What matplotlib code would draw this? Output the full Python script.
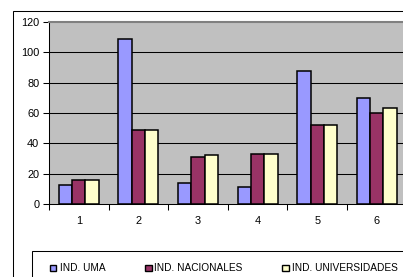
import matplotlib
matplotlib.use("Agg")
import matplotlib.pyplot as plt
from matplotlib.patches import Rectangle
import numpy as np

plt.rcParams['font.family'] = ['Liberation Sans', 'DejaVu Sans']

categories = ["1", "2", "3", "4", "5", "6"]
series_names = ["IND. UMA", "IND. NACIONALES", "IND. UNIVERSIDADES"]
uma = [12.5, 109, 14, 11, 88, 70]
nacionales = [16, 49, 31, 33, 52, 60]
universidades = [16, 49, 32, 33, 52, 63]
y_ticks = [0, 20, 40, 60, 80, 100, 120]

colors = ["#9999FF", "#993366", "#FFFFCC"]

W, H = 403, 277
fig = plt.figure(figsize=(W / 100, H / 100), dpi=100)
fig.patch.set_facecolor("white")

# outer chart border (cropped on right/bottom)
fig.add_artist(Rectangle((13.5 / W, -0.2), 2.0, 1.2 - 11.5 / H + 0.0,
                         transform=fig.transFigure, fill=False,
                         edgecolor="black", linewidth=0.75))

left, right, top, bottom = 49, 406.6, 22, 204
ax = fig.add_axes([left / W, 1 - bottom / H, (right - left) / W, (bottom - top) / H])
ax.set_facecolor("#C0C0C0")

x = np.arange(1, len(categories) + 1)
bw = 0.224
for i, (vals, c, name) in enumerate(zip([uma, nacionales, universidades], colors, series_names)):
    ax.bar(x + (i - 1) * bw, vals, width=bw, color=c, edgecolor="black",
           linewidth=1.1, zorder=3, label=name)

ax.set_xlim(0.5, 6.5)
ax.set_ylim(0, 120)
ax.set_yticks(y_ticks)
ax.set_yticklabels([str(t) for t in y_ticks])
for t in y_ticks[1:-1]:
    ax.axhline(t, color="black", linewidth=0.75, zorder=1)

ax.set_xticks(x)
ax.set_xticklabels(categories)
ax.set_xticks(np.arange(0.5, 7.0, 1.0), minor=True)
ax.tick_params(axis="x", which="major", length=0, pad=9, labelsize=7.9, colors="black")
ax.tick_params(axis="x", which="minor", length=4, width=0.75, direction="out", color="black")
ax.tick_params(axis="y", which="major", length=4, width=0.75, direction="out", pad=3,
               labelsize=7.9, colors="black")

ax.spines["left"].set_color("black")
ax.spines["left"].set_linewidth(0.75)
ax.spines["bottom"].set_color("black")
ax.spines["bottom"].set_linewidth(0.75)
ax.spines["top"].set_color("#808080")
ax.spines["top"].set_linewidth(1.5)
ax.spines["right"].set_visible(False)

# legend box (cropped on right/bottom)
fig.add_artist(Rectangle((31.7 / W, -0.2), 2.0, 0.2 + 1 - 250.7 / H,
                         transform=fig.transFigure, fill=False,
                         edgecolor="black", linewidth=0.75))
marker_x = [50, 145, 282]
text_x = [60, 154.5, 291.5]
ly = 268
for mx, tx, c, name in zip(marker_x, text_x, colors, series_names):
    fig.add_artist(Rectangle((mx / W, 1 - (ly + 3.3) / H), 6.5 / W, 6.5 / H,
                             transform=fig.transFigure, facecolor=c,
                             edgecolor="black", linewidth=1.0))
    fig.text(tx / W, 1 - ly / H, name, fontsize=7.3, va="center", ha="left", color="black")

fig.savefig("out.png", dpi=100)
